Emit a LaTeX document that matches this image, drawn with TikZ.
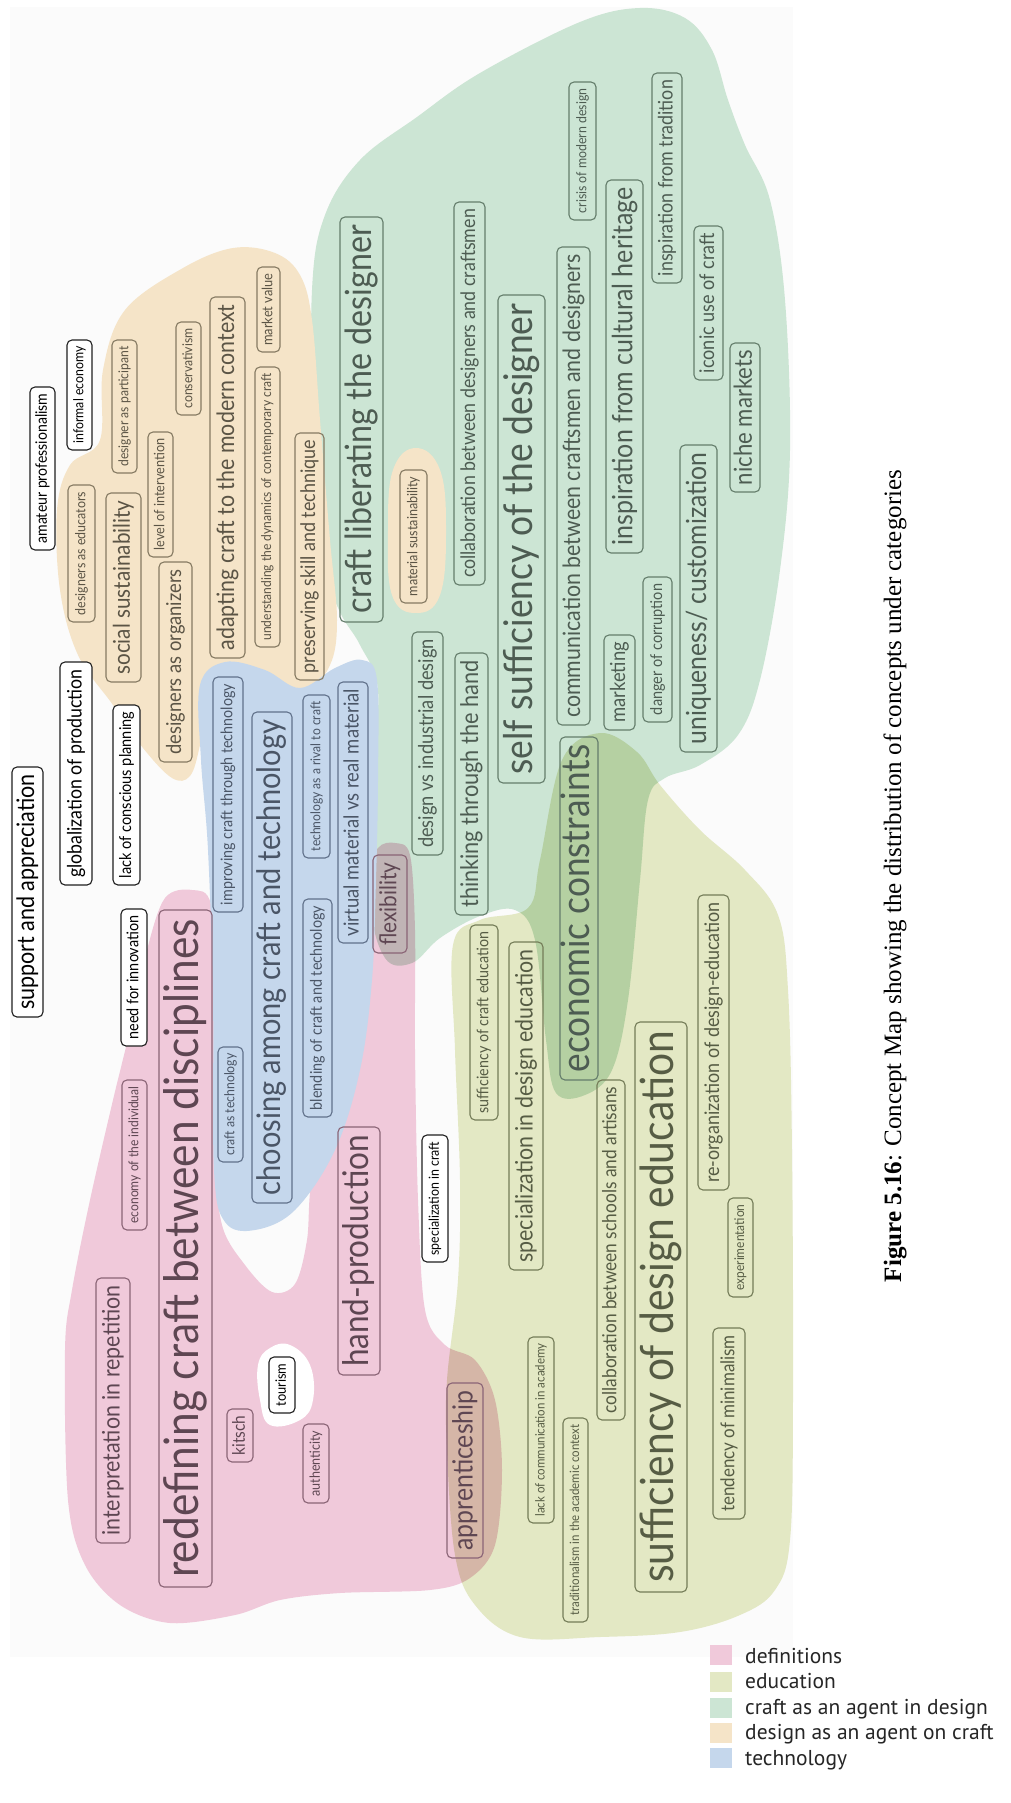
\documentclass[tikz,border=0pt]{standalone}
\usepackage{fontspec}
\usepackage{graphicx}
\setmainfont{Lato}
\newfontfamily\legfont{PT Sans}
\newfontfamily\capfont{Liberation Serif}
\definecolor{pinkreg}{HTML}{F0C9DA}
\definecolor{olivereg}{HTML}{E3E8C4}
\definecolor{greenreg}{HTML}{CCE5D4}
\definecolor{tanreg}{HTML}{F5E4C8}
\definecolor{bluereg}{HTML}{C5D7EC}
\definecolor{tanline}{HTML}{857A62}\definecolor{tantext}{HTML}{5B5445}
\definecolor{greenline}{HTML}{647D6B}\definecolor{greentext}{HTML}{4D5C52}
\definecolor{oliveline}{HTML}{747C58}\definecolor{olivetext}{HTML}{565C44}
\definecolor{pinkline}{HTML}{8A6476}\definecolor{pinktext}{HTML}{5E4652}
\definecolor{blueline}{HTML}{61718A}\definecolor{bluetext}{HTML}{4A5566}
\definecolor{pagegrey}{HTML}{FBFBFB}
\newcommand\cbx[7]{\node[#6, minimum width=#4pt, minimum height=#5pt] (#1) at (#2,#3) {\resizebox{\dimexpr #4pt-8pt-#5pt*20/100\relax}{!}{\scalebox{1}[1.12]{\vphantom{Xg}#7}}};}
\tikzset{
  cbase/.style={draw, rounded corners=5pt, line width=1.1pt, inner sep=0pt, rotate=90},
  bk/.style={cbase, draw=black!88, fill=white, text=black},
  tn/.style={cbase, draw=tanline, text=tantext},
  gr/.style={cbase, draw=greenline, text=greentext},
  ol/.style={cbase, draw=oliveline, text=olivetext},
  pk/.style={cbase, draw=pinkline, text=pinktext},
  bl/.style={cbase, draw=blueline, text=bluetext},
  swatch/.style={inner sep=0pt, minimum width=22pt, minimum height=20pt},
  legtext/.style={anchor=base west, inner sep=0pt, font=\legfont\fontsize{21.5}{25}\selectfont, text=black!85}
}
\begin{document}
\begin{tikzpicture}[x=1pt,y=-1pt]
\useasboundingbox (0,0) rectangle (1010,1803);
\fill[white] (0,0) rectangle (1010,1803);
\fill[pagegrey] (10,7) rectangle (793,1657);
% ---- overlapping regions (multiply) ----
\begin{scope}[blend group=multiply]
\fill[greenreg] plot[smooth cycle, tension=0.6] coordinates {
 (417,117) (480,73) (580,22) (640,8) (685,18) (712,50) (728,100) (745,145) (770,200) (785,300)
 (790,450) (780,570) (760,680) (738,735) (700,765) (665,778) (648,800) (640,880) (628,1000)
 (612,1070) (585,1095) (556,1093) (546,1040) (535,940) (515,910) (480,916) (440,938) (412,963)
 (385,958) (370,900) (372,780) (378,690) (360,645) (340,612) (322,560) (313,450) (312,290) (325,215) (360,160)};
\fill[olivereg] plot[smooth cycle, tension=0.6] coordinates {
 (453,945) (480,920) (528,908) (540,860) (562,760) (600,733) (637,752) (660,785) (700,830)
 (745,870) (778,915) (788,990) (792,1150) (793,1400) (790,1540) (775,1590) (740,1615)
 (680,1632) (600,1637) (520,1637) (475,1605) (455,1555) (447,1450) (447,1380) (458,1280)
 (460,1180) (455,1050)};
\fill[pinkreg] plot[smooth cycle, tension=0.55] coordinates {
 (147,950) (165,898) (192,890) (211,905) (215,1000) (215,1150) (222,1225) (245,1265) (272,1292)
 (295,1284) (307,1240) (312,1180) (335,1120) (355,1060) (365,990) (367,880) (378,848) (395,843)
 (410,855) (415,930) (415,1050) (418,1200) (425,1310) (445,1345) (475,1360) (495,1400) (502,1470)
 (495,1545) (470,1578) (430,1590) (340,1593) (280,1600) (235,1615) (170,1623) (120,1605) (85,1565)
 (68,1500) (65,1350) (72,1290) (90,1200) (113,1100) (130,1030)};
\end{scope}
% ---- design as an agent on craft ----
\fill[tanreg] plot[smooth cycle, tension=0.6] coordinates {
 (103,370) (125,310) (183,268) (233,248) (275,253) (300,275) (312,320) (320,420) (330,540)
 (337,620) (330,665) (305,690) (250,690) (210,690) (200,745) (190,776) (172,778) (143,748)
 (113,705) (78,655) (60,590) (57,510) (70,465) (100,440)};
\fill[tanreg] plot[smooth cycle, tension=0.7] coordinates {
 (416,448) (440,470) (446,530) (440,595) (416,613) (392,595) (388,530) (393,470)};
% ---- technology ----
\fill[bluereg] plot[smooth cycle, tension=0.6] coordinates {
 (200,685) (225,662) (265,670) (300,688) (335,668) (362,660) (377,680) (378,780) (376,880)
 (372,980) (360,1070) (335,1150) (295,1210) (255,1230) (225,1222) (214,1170) (213,1000)
 (208,850) (201,760)};
% white hole round tourism
\fill[white] plot[smooth cycle, tension=0.7] coordinates {
 (290,1345) (310,1365) (313,1400) (300,1420) (270,1425) (260,1400) (258,1365) (270,1348)};
% ---- boxes: black ----
\cbx{amateur}{42.5}{468.5}{163}{25}{bk}{amateur professionalism}
\cbx{informal}{79.5}{395}{110}{25}{bk}{informal economy}
\cbx{globalization}{76}{773.5}{223}{32}{bk}{globalization of production}
\cbx{lackplanning}{126.5}{795}{180}{27}{bk}{lack of conscious planning}
\cbx{support}{27.5}{892}{250}{31}{bk}{support and appreciation}
\cbx{needinnov}{134}{977.5}{137}{26}{bk}{need for innovation}
\cbx{specialcraft}{435}{1198.5}{127}{26}{bk}{specialization in craft}
\cbx{tourism}{282}{1385}{56}{26}{bk}{tourism}
% ---- tan ----
\cbx{designerpart}{124.5}{406.5}{133}{25}{tn}{designer as participant}
\cbx{conservativism}{188.5}{368.5}{93}{25}{tn}{conservativism}
\cbx{adapting}{227.5}{477.5}{361}{35}{tn}{adapting craft to the modern context}
\cbx{understanding}{267.5}{507}{280}{25}{tn}{understanding the dynamics of contemporary craft}
\cbx{marketvalue}{268.5}{309.5}{85}{23}{tn}{market value}
\cbx{preserving}{309.5}{556.5}{247}{29}{tn}{preserving skill and technique}
\cbx{designersedu}{81.5}{553.5}{137}{27}{tn}{designers as educators}
\cbx{socialsust}{123.5}{587.5}{189}{35}{tn}{social sustainability}
\cbx{levelinterv}{160.5}{494.5}{125}{25}{tn}{level of intervention}
\cbx{designersorg}{175.5}{662}{200}{33}{tn}{designers as organizers}
\cbx{materialsust}{413.5}{536.5}{133}{27}{tn}{material sustainability}
% ---- green ----
\cbx{liberating}{361.5}{419.5}{405}{43}{gr}{craft liberating the designer}
\cbx{collabdesigners}{469.5}{393.5}{383}{31}{gr}{collaboration between designers and craftsmen}
\cbx{selfsuff}{521.5}{539}{488}{47}{gr}{self sufficiency of the designer}
\cbx{crisis}{582.5}{151}{138}{27}{gr}{crisis of modern design}
\cbx{communication}{573.5}{486}{478}{33}{gr}{communication between craftsmen and designers}
\cbx{heritage}{624.5}{366.5}{373}{37}{gr}{inspiration from cultural heritage}
\cbx{tradition}{667}{178}{210}{30}{gr}{inspiration from tradition}
\cbx{iconic}{708.5}{303}{154}{29}{gr}{iconic use of craft}
\cbx{niche}{745}{417.5}{149}{30}{gr}{niche markets}
\cbx{marketing}{619.5}{682.5}{95}{31}{gr}{marketing}
\cbx{danger}{657.5}{649.5}{145}{29}{gr}{danger of corruption}
\cbx{uniqueness}{698.5}{598.5}{307}{37}{gr}{uniqueness/ customization}
\cbx{economic}{579}{908.5}{343}{38}{gr}{economic constraints}
\cbx{designvs}{427.5}{743.5}{223}{31}{gr}{design vs industrial design}
\cbx{thinking}{471.5}{784}{262}{33}{gr}{thinking through the hand}
\cbx{flexibility}{390}{904}{98}{34}{pk}{flexibility}
% ---- blue ----
\cbx{improving}{228}{794.5}{235}{30}{bl}{improving craft through technology}
\cbx{choosing}{272}{957.5}{491}{40}{bl}{choosing among craft and technology}
\cbx{rival}{316.5}{776.5}{163}{27}{bl}{technology as a rival to craft}
\cbx{virtual}{353}{812.5}{261}{30}{bl}{virtual material vs real material}
\cbx{craftastech}{230.5}{1104.5}{115}{25}{bl}{craft as technology}
\cbx{blending}{317.5}{1008}{218}{29}{bl}{blending of craft and technology}
% ---- pink ----
\cbx{redefining}{185.5}{1248.5}{677}{53}{pk}{redefining craft between disciplines}
\cbx{economyind}{134.5}{1155}{150}{25}{pk}{economy of the individual}
\cbx{handprod}{359}{1251}{248}{42}{pk}{hand-production}
\cbx{interpretation}{113}{1410.5}{265}{34}{pk}{interpretation in repetition}
\cbx{kitsch}{240}{1435.5}{53}{26}{pk}{kitsch}
\cbx{authenticity}{316}{1463.5}{79}{26}{pk}{authenticity}
\cbx{apprenticeship}{465}{1470.5}{175}{36}{pk}{apprenticeship}
% ---- olive ----
\cbx{suffcraft}{484}{1022.5}{195}{28}{ol}{sufficiency of craft education}
\cbx{specdesign}{526}{1106}{328}{34}{ol}{specialization in design education}
\cbx{collabschools}{611}{1250}{340}{28}{ol}{collaboration between schools and artisans}
\cbx{suffdesign}{661}{1307}{570}{52}{ol}{sufficiency of design education}
\cbx{reorg}{713.5}{1042.5}{295}{31}{ol}{re-organization of design-education}
\cbx{experimentation}{740.5}{1247.5}{99}{25}{ol}{experimentation}
\cbx{lackcomm}{541}{1430}{186}{26}{ol}{lack of communication in academy}
\cbx{traditionalism}{575.5}{1520}{204}{25}{ol}{traditionalism in the academic context}
\cbx{minimalism}{729}{1423.5}{191}{32}{ol}{tendency of minimalism}
% ---- caption ----
\node[rotate=90, inner sep=0pt] (caption) at (895,876) {\resizebox{812pt}{!}{\capfont\textbf{Figure 5.16}: Concept Map showing the distribution of concepts under categories}};
% ---- legend ----
\node[swatch, fill=pinkreg] (sw1) at (721,1655) {};
\node[swatch, fill=olivereg] (sw2) at (721,1682) {};
\node[swatch, fill=greenreg] (sw3) at (721,1708) {};
\node[swatch, fill=tanreg] (sw4) at (721,1733) {};
\node[swatch, fill=bluereg] (sw5) at (721,1758) {};
\node[legtext] (lg1) at (745,1663) {definitions};
\node[legtext] (lg2) at (745,1688) {education};
\node[legtext] (lg3) at (745,1714) {craft as an agent in design};
\node[legtext] (lg4) at (745,1739) {design as an agent on craft};
\node[legtext] (lg5) at (745,1765) {technology};
\end{tikzpicture}
\end{document}
